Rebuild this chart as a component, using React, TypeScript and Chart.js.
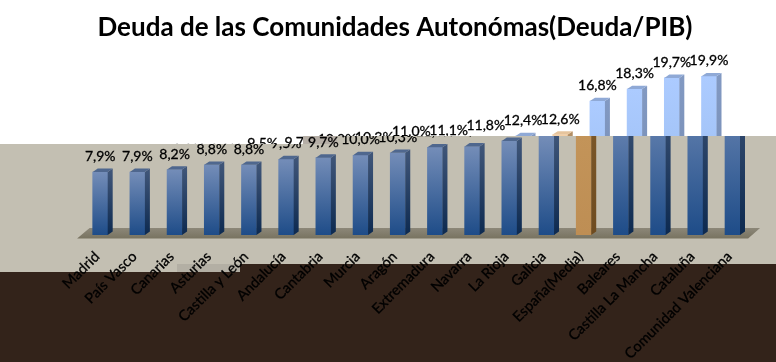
import React, { useEffect, useRef } from "react";
import { Chart, registerables } from "chart.js";

Chart.register(...registerables);

const categories = ["Madrid", "País Vasco", "Canarias", "Asturias", "Castilla y León", "Andalucía", "Cantabria", "Murcia", "Aragón", "Extremadura", "Navarra", "La Rioja", "Galicia", "España(Media)", "Baleares", "Castilla La Mancha", "Cataluña", "Comunidad Valenciana"];
const deuda = [7.9, 7.9, 8.2, 8.8, 8.8, 9.5, 9.7, 10.0, 10.3, 11.0, 11.1, 11.8, 12.4, 12.6, 16.8, 18.3, 19.7, 19.9];
const mediaIndex = 13;
const titleText = "Deuda de las Comunidades Autonómas(Deuda/PIB)";
const FONT = "Lato, Carlito, Calibri, sans-serif";

type Palette = { bar: [string, string]; side: [string, string]; top: string; mBar: [string, string]; mSide: [string, string]; mTop: string };
const darkPalette: Palette = {
  bar: ["#748DB8", "#1E4C88"], side: ["#3F5578", "#0D2A50"], top: "#4F678E",
  mBar: ["#C39459", "#BE8E54"], mSide: ["#7A5628", "#6E4B20"], mTop: "#D9AE7C",
};
const lightPalette: Palette = {
  bar: ["#ACCBFF", "#98BBEE"], side: ["#8299C2", "#7289B0"], top: "#8FA9D6",
  mBar: ["#F3CFA6", "#EBC49A"], mSide: ["#B28E64", "#A98558"], mTop: "#E6C49C",
};

const depth = { x: 5, y: 3.4 };

function mkChart(canvas: HTMLCanvasElement, upper: boolean) {
  const pal = upper ? lightPalette : darkPalette;
  const shift = upper ? -23.5 : 0;

  const scene = {
    id: "scene",
    beforeDraw(chart: any) {
      const { ctx, width, height } = chart;
      ctx.save();
      ctx.fillStyle = "#FFFFFF";
      ctx.fillRect(0, 0, width, height);
      if (!upper) {
        ctx.fillStyle = "#C3BFB2";
        ctx.fillRect(0, 0, width, height);
        ctx.fillStyle = "#33231A";
        ctx.fillRect(0, 272, width, height - 272);
        ctx.fillRect(240, 264, width - 240, 8);
        ctx.fillStyle = "#B3AFA4";
        ctx.fillRect(177, 264, 63, 8);
        ctx.fillStyle = "#B5AEA6";
        ctx.fillRect(303, 136, 34, 8);
        const { left, right, bottom } = chart.chartArea;
        const grad = ctx.createLinearGradient(0, bottom - 8, 0, bottom + 4);
        grad.addColorStop(0, "#8E897B");
        grad.addColorStop(1, "#77725F");
        ctx.fillStyle = grad;
        ctx.beginPath();
        ctx.moveTo(left - 4.5, bottom + 3.5);
        ctx.lineTo(left + 8, bottom - 7);
        ctx.lineTo(right + 9, bottom - 7);
        ctx.lineTo(right - 3, bottom + 3.5);
        ctx.closePath();
        ctx.fill();
      }
      ctx.restore();
    },
    afterDatasetsDraw(chart: any) {
      const { ctx } = chart;
      const meta = chart.getDatasetMeta(0);
      ctx.save();
      meta.data.forEach((el: any, i: number) => {
        const w = el.width;
        const x0 = el.x - w / 2;
        const x1 = el.x + w / 2;
        const yTop = el.y;
        const yBase = el.base;
        const m = i === mediaIndex;
        const sideC = m ? pal.mSide : pal.side;
        const g = ctx.createLinearGradient(0, yTop, 0, yBase);
        g.addColorStop(0, sideC[0]);
        g.addColorStop(1, sideC[1]);
        ctx.fillStyle = g;
        ctx.beginPath();
        ctx.moveTo(x1, yTop);
        ctx.lineTo(x1 + depth.x, yTop - depth.y);
        ctx.lineTo(x1 + depth.x, yBase - depth.y);
        ctx.lineTo(x1, yBase);
        ctx.closePath();
        ctx.fill();
        ctx.fillStyle = m ? pal.mTop : pal.top;
        ctx.beginPath();
        ctx.moveTo(x0, yTop);
        ctx.lineTo(x0 + depth.x, yTop - depth.y);
        ctx.lineTo(x1 + depth.x, yTop - depth.y);
        ctx.lineTo(x1, yTop);
        ctx.closePath();
        ctx.fill();
      });
      ctx.fillStyle = "#000000";
      ctx.strokeStyle = "#000000";
      ctx.lineWidth = 0.3;
      ctx.font = `14px ${FONT}`;
      ctx.textAlign = "center";
      ctx.textBaseline = "alphabetic";
      meta.data.forEach((el: any, i: number) => {
        const label = deuda[i].toFixed(1).replace(".", ",") + "%";
        ctx.fillText(label, el.x, el.y - 11);
        ctx.strokeText(label, el.x, el.y - 11);
      });
      ctx.restore();
    },
  };

  return new Chart(canvas, {
    type: "bar",
    data: {
      labels: categories,
      datasets: [
        {
          data: deuda,
          barThickness: 15,
          backgroundColor: (c: any) => {
            const chart = c.chart;
            const m = c.dataIndex === mediaIndex;
            const stops = m ? pal.mBar : pal.bar;
            if (!chart.chartArea || !chart.scales.y) return stops[0];
            const g = chart.ctx.createLinearGradient(0, chart.scales.y.getPixelForValue(c.raw), 0, chart.scales.y.getPixelForValue(0));
            g.addColorStop(0, stops[0]);
            g.addColorStop(1, stops[1]);
            return g;
          },
        },
      ],
    },
    options: {
      responsive: false,
      animation: false,
      layout: { padding: { left: 81.6 + shift, right: upper ? 44.1 : 24.9, top: upper ? 0 : 51.6, bottom: 0 } },
      plugins: {
        legend: { display: false },
        tooltip: { enabled: false },
        title: {
          display: upper,
          text: titleText,
          color: "#000000",
          font: { family: FONT, size: 26, weight: "bold", lineHeight: 1.2 },
          padding: { top: 12, bottom: 8.4 },
        },
      },
      scales: {
        x: {
          offset: true,
          grid: { display: false },
          border: { display: false },
          afterFit: (s: any) => { s.height = 127; },
          ticks: {
            display: !upper,
            autoSkip: false,
            minRotation: 45,
            maxRotation: 45,
            color: "#000000",
            padding: 5,
            labelOffset: -3,
            textStrokeColor: "#000000",
            textStrokeWidth: 0.3,
            font: { family: FONT, size: 14.5 },
          },
        },
        y: { display: false, min: 0, max: 23 },
        y2: {
          display: upper,
          position: "right",
          grid: { display: false },
          border: { display: false },
          ticks: { display: false },
          afterFit: (s: any) => { s.width = upper ? 4.3 : 0; },
        },
      },
    },
    plugins: [scene],
  } as any);
}

export default function App() {
  const upperRef = useRef<HTMLCanvasElement>(null);
  const lowerRef = useRef<HTMLCanvasElement>(null);
  useEffect(() => {
    const a = mkChart(upperRef.current!, true);
    const b = mkChart(lowerRef.current!, false);
    return () => { a.destroy(); b.destroy(); };
  }, []);
  const base: React.CSSProperties = { position: "absolute", left: 0, top: 0, display: "block" };
  return (
    <div style={{ position: "absolute", left: 0, top: 0, width: 776, height: 362, overflow: "hidden" }}>
      <canvas ref={upperRef} width={776} height={362} style={base} />
      <canvas ref={lowerRef} width={776} height={362} style={{ ...base, clipPath: "polygon(0px 144px, 303px 144px, 303px 136px, 776px 136px, 776px 362px, 0px 362px)" }} />
    </div>
  );
}
